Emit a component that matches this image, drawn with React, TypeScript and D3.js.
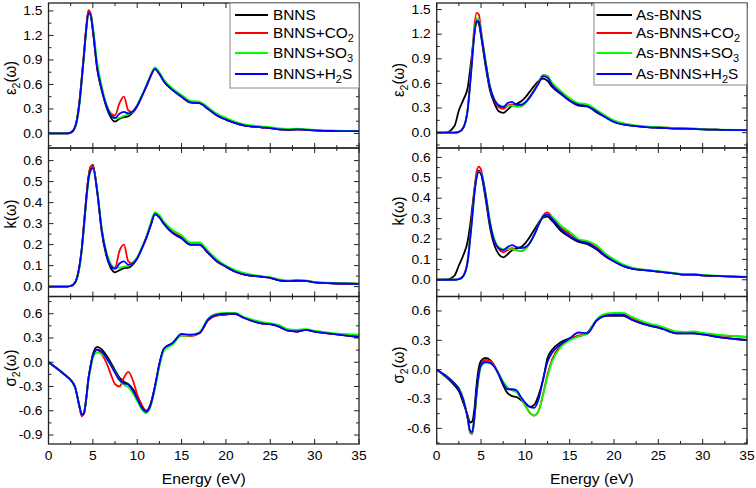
import React from 'react';
import * as d3 from 'd3';

// Photon energy grid (eV)
const ENERGY = [0,1,2,2.5,3,3.5,3.75,4,4.25,4.5,4.75,5,5.5,6,6.5,7,7.5,8,8.5,9,9.5,10,10.5,11,11.5,12,12.5,13,14,15,16,17,18,19,20,21,22,24,25,26,27,28,29,30,32,35];

// ---- Left column: BNNS systems ----
const L_EPS_BNNS = [0,0,0,0.01,0.08,0.4,0.68,0.97,1.28,1.49,1.45,1.26,0.78,0.53,0.33,0.2,0.145,0.18,0.2,0.21,0.26,0.34,0.45,0.57,0.7,0.79,0.73,0.64,0.53,0.45,0.38,0.37,0.3,0.22,0.17,0.13,0.1,0.075,0.065,0.05,0.045,0.05,0.045,0.038,0.03,0.028];
const L_EPS_CO2 = [0,0,0,0.01,0.08,0.4,0.69,0.99,1.3,1.51,1.47,1.28,0.79,0.54,0.35,0.25,0.22,0.37,0.45,0.28,0.26,0.33,0.45,0.57,0.7,0.79,0.73,0.64,0.54,0.45,0.38,0.37,0.3,0.22,0.17,0.13,0.1,0.075,0.065,0.05,0.045,0.05,0.045,0.038,0.03,0.028];
const L_EPS_SO3 = [0,0,0,0.01,0.07,0.36,0.64,0.94,1.25,1.46,1.46,1.31,0.86,0.58,0.37,0.24,0.185,0.19,0.215,0.235,0.27,0.35,0.46,0.58,0.71,0.81,0.75,0.66,0.55,0.47,0.4,0.39,0.32,0.24,0.19,0.145,0.115,0.088,0.077,0.062,0.056,0.058,0.052,0.045,0.036,0.03];
const L_EPS_H2S = [0,0,0,0.01,0.08,0.38,0.66,0.96,1.27,1.47,1.45,1.27,0.8,0.54,0.35,0.23,0.19,0.24,0.265,0.245,0.27,0.34,0.45,0.57,0.7,0.79,0.73,0.64,0.53,0.45,0.38,0.37,0.3,0.22,0.17,0.13,0.1,0.075,0.065,0.05,0.045,0.05,0.045,0.038,0.03,0.028];

const L_K_BNNS = [0,0,0,0.003,0.02,0.1,0.18,0.3,0.42,0.52,0.57,0.58,0.45,0.26,0.15,0.09,0.068,0.078,0.088,0.09,0.105,0.135,0.18,0.23,0.29,0.345,0.33,0.3,0.255,0.23,0.2,0.2,0.16,0.12,0.095,0.072,0.058,0.047,0.042,0.03,0.026,0.028,0.027,0.02,0.016,0.013];
const L_K_CO2 = [0,0,0,0.003,0.02,0.1,0.18,0.3,0.42,0.52,0.57,0.575,0.45,0.27,0.16,0.1,0.09,0.17,0.2,0.12,0.11,0.135,0.18,0.23,0.29,0.345,0.335,0.3,0.26,0.235,0.2,0.2,0.16,0.12,0.095,0.072,0.058,0.047,0.042,0.03,0.026,0.028,0.027,0.02,0.016,0.013];
const L_K_SO3 = [0,0,0,0.003,0.018,0.09,0.17,0.28,0.4,0.5,0.55,0.563,0.46,0.28,0.17,0.11,0.088,0.09,0.095,0.1,0.115,0.14,0.185,0.235,0.3,0.355,0.34,0.31,0.27,0.245,0.21,0.21,0.17,0.13,0.1,0.08,0.065,0.05,0.045,0.035,0.03,0.032,0.03,0.022,0.018,0.014];
const L_K_H2S = [0,0,0,0.003,0.02,0.1,0.18,0.29,0.41,0.51,0.555,0.565,0.45,0.27,0.16,0.1,0.085,0.11,0.12,0.105,0.11,0.135,0.18,0.23,0.29,0.345,0.33,0.3,0.255,0.23,0.2,0.2,0.16,0.12,0.095,0.072,0.058,0.047,0.042,0.03,0.026,0.028,0.027,0.02,0.016,0.013];

const L_SIG_BNNS = [0,-0.08,-0.17,-0.22,-0.31,-0.55,-0.65,-0.62,-0.45,-0.2,-0.04,0.1,0.19,0.16,0.09,0.0,-0.1,-0.19,-0.24,-0.27,-0.33,-0.42,-0.53,-0.6,-0.52,-0.3,-0.02,0.16,0.24,0.34,0.33,0.36,0.52,0.58,0.59,0.6,0.55,0.48,0.47,0.44,0.39,0.38,0.4,0.38,0.35,0.31];
const L_SIG_CO2 = [0,-0.08,-0.17,-0.22,-0.31,-0.56,-0.67,-0.64,-0.46,-0.21,-0.05,0.08,0.15,0.1,0.0,-0.14,-0.27,-0.3,-0.19,-0.12,-0.22,-0.4,-0.53,-0.6,-0.52,-0.3,-0.03,0.15,0.23,0.33,0.32,0.36,0.52,0.58,0.59,0.6,0.55,0.48,0.47,0.44,0.39,0.38,0.4,0.38,0.35,0.33];
const L_SIG_SO3 = [0,-0.08,-0.17,-0.22,-0.31,-0.55,-0.65,-0.63,-0.46,-0.23,-0.08,0.05,0.12,0.1,0.05,-0.03,-0.12,-0.22,-0.28,-0.31,-0.38,-0.48,-0.58,-0.63,-0.55,-0.33,-0.05,0.14,0.22,0.33,0.33,0.37,0.54,0.6,0.61,0.61,0.56,0.5,0.48,0.46,0.41,0.4,0.41,0.39,0.36,0.34];
const L_SIG_H2S = [0,-0.08,-0.17,-0.22,-0.31,-0.55,-0.65,-0.63,-0.45,-0.21,-0.05,0.08,0.16,0.13,0.06,-0.03,-0.13,-0.22,-0.26,-0.28,-0.35,-0.45,-0.56,-0.61,-0.53,-0.3,-0.02,0.17,0.24,0.35,0.34,0.36,0.53,0.59,0.6,0.6,0.55,0.48,0.47,0.44,0.39,0.38,0.4,0.38,0.35,0.31];

// ---- Right column: As-BNNS systems ----
const R_EPS_AS = [0,0,0.08,0.27,0.4,0.55,0.75,0.98,1.2,1.36,1.33,1.18,0.82,0.52,0.36,0.26,0.24,0.28,0.33,0.35,0.38,0.43,0.5,0.57,0.63,0.66,0.63,0.56,0.47,0.39,0.33,0.32,0.25,0.19,0.13,0.1,0.085,0.065,0.06,0.055,0.05,0.05,0.045,0.04,0.035,0.03];
const R_EPS_CO2 = [0,0,0,0.01,0.06,0.3,0.6,0.95,1.3,1.46,1.44,1.25,0.88,0.56,0.39,0.31,0.29,0.33,0.345,0.32,0.32,0.36,0.44,0.52,0.62,0.7,0.69,0.6,0.49,0.4,0.35,0.33,0.27,0.2,0.14,0.11,0.09,0.07,0.065,0.06,0.055,0.05,0.048,0.042,0.035,0.03];
const R_EPS_SO3 = [0,0,0,0.01,0.06,0.28,0.57,0.9,1.23,1.39,1.38,1.22,0.88,0.57,0.41,0.34,0.32,0.33,0.33,0.32,0.32,0.36,0.43,0.51,0.61,0.7,0.69,0.61,0.51,0.42,0.36,0.345,0.28,0.21,0.15,0.115,0.095,0.072,0.066,0.062,0.056,0.052,0.05,0.044,0.037,0.031];
const R_EPS_H2S = [0,0,0,0.01,0.06,0.28,0.56,0.88,1.2,1.36,1.36,1.2,0.86,0.56,0.4,0.33,0.31,0.36,0.375,0.34,0.34,0.37,0.43,0.51,0.6,0.69,0.67,0.58,0.48,0.39,0.34,0.32,0.26,0.19,0.13,0.1,0.085,0.065,0.06,0.055,0.05,0.05,0.045,0.04,0.035,0.03];

const R_K_AS = [0,0,0.02,0.07,0.12,0.19,0.26,0.35,0.44,0.51,0.535,0.52,0.4,0.26,0.17,0.125,0.11,0.125,0.145,0.155,0.16,0.18,0.21,0.245,0.28,0.305,0.31,0.29,0.24,0.21,0.185,0.175,0.15,0.115,0.09,0.068,0.055,0.045,0.04,0.035,0.03,0.025,0.025,0.022,0.018,0.013];
const R_K_CO2 = [0,0,0,0.003,0.02,0.1,0.2,0.32,0.44,0.53,0.555,0.54,0.42,0.28,0.19,0.15,0.135,0.145,0.155,0.145,0.14,0.15,0.18,0.22,0.27,0.315,0.33,0.31,0.26,0.225,0.195,0.185,0.16,0.125,0.095,0.072,0.058,0.045,0.04,0.035,0.03,0.025,0.025,0.022,0.018,0.014];
const R_K_SO3 = [0,0,0,0.003,0.018,0.09,0.19,0.3,0.42,0.5,0.53,0.525,0.43,0.29,0.2,0.16,0.15,0.15,0.15,0.145,0.14,0.15,0.18,0.22,0.27,0.31,0.32,0.31,0.265,0.235,0.2,0.19,0.17,0.13,0.1,0.076,0.06,0.047,0.042,0.037,0.032,0.027,0.027,0.024,0.019,0.015];
const R_K_H2S = [0,0,0,0.003,0.018,0.09,0.19,0.3,0.42,0.5,0.528,0.52,0.42,0.28,0.19,0.155,0.145,0.16,0.17,0.16,0.155,0.16,0.18,0.22,0.27,0.31,0.32,0.3,0.25,0.215,0.19,0.18,0.155,0.118,0.09,0.068,0.055,0.045,0.04,0.035,0.03,0.025,0.025,0.022,0.018,0.013];

const R_SIG_AS = [0,-0.07,-0.16,-0.22,-0.34,-0.47,-0.54,-0.53,-0.4,-0.15,0.02,0.09,0.12,0.1,0.04,-0.05,-0.16,-0.24,-0.27,-0.28,-0.31,-0.35,-0.38,-0.36,-0.26,-0.1,0.12,0.2,0.28,0.32,0.34,0.38,0.5,0.55,0.55,0.55,0.51,0.45,0.43,0.4,0.37,0.37,0.37,0.36,0.33,0.305];
const R_SIG_CO2 = [0,-0.06,-0.14,-0.19,-0.3,-0.5,-0.64,-0.66,-0.5,-0.25,-0.05,0.05,0.1,0.09,0.04,-0.04,-0.13,-0.19,-0.21,-0.23,-0.29,-0.37,-0.44,-0.47,-0.42,-0.25,-0.05,0.1,0.25,0.31,0.35,0.37,0.5,0.56,0.57,0.57,0.53,0.46,0.44,0.41,0.38,0.38,0.385,0.37,0.35,0.335];
const R_SIG_SO3 = [0,-0.06,-0.14,-0.19,-0.3,-0.5,-0.63,-0.65,-0.5,-0.26,-0.07,0.03,0.07,0.07,0.03,-0.04,-0.12,-0.18,-0.21,-0.23,-0.29,-0.37,-0.44,-0.47,-0.42,-0.26,-0.07,0.08,0.23,0.3,0.34,0.37,0.51,0.57,0.58,0.58,0.54,0.47,0.45,0.42,0.39,0.385,0.39,0.375,0.355,0.335];
const R_SIG_H2S = [0,-0.06,-0.14,-0.2,-0.31,-0.5,-0.62,-0.64,-0.48,-0.23,-0.05,0.05,0.08,0.07,0.03,-0.05,-0.14,-0.2,-0.2,-0.21,-0.28,-0.34,-0.38,-0.39,-0.3,-0.1,0.08,0.17,0.26,0.32,0.38,0.37,0.5,0.55,0.56,0.56,0.51,0.45,0.43,0.4,0.37,0.37,0.37,0.36,0.33,0.3];

// ---- Axis ticks ----
const X_MAJOR = [0, 5, 10, 15, 20, 25, 30, 35];
const X_MINOR = [2.5, 7.5, 12.5, 17.5, 22.5, 27.5, 32.5];
const EPS_MAJOR = [0, 0.3, 0.6, 0.9, 1.2, 1.5];
const EPS_MINOR = [-0.15, 0.15, 0.45, 0.75, 1.05, 1.35];
const K_MAJOR = [0, 0.1, 0.2, 0.3, 0.4, 0.5, 0.6];
const K_MINOR = [0.05, 0.15, 0.25, 0.35, 0.45, 0.55];
const K_MINOR_R = [-0.05, 0.05, 0.15, 0.25, 0.35, 0.45, 0.55];
const SIG_MAJOR_L = [-0.9, -0.6, -0.3, 0, 0.3, 0.6];
const SIG_MINOR_L = [-0.75, -0.45, -0.15, 0.15, 0.45, 0.75];
const SIG_MAJOR_R = [-0.6, -0.3, 0, 0.3, 0.6];
const SIG_MINOR_R = [-0.75, -0.45, -0.15, 0.15, 0.45];

// ---- Legends ----
const LEGEND_LEFT = [['BNNS', '', ''], ['BNNS+CO', '2', ''], ['BNNS+SO', '3', ''], ['BNNS+H', '2', 'S']];
const LEGEND_RIGHT = [['As-BNNS', '', ''], ['As-BNNS+CO', '2', ''], ['As-BNNS+SO', '3', ''], ['As-BNNS+H', '2', 'S']];
const COLORS = ['#000000', '#ff0000', '#00ff00', '#0000ff'];

const FONT = "'Liberation Sans', Arial, Helvetica, sans-serif";
const ROWS = [[3, 148], [148, 296.5], [296.5, 444]];

const fmt = (v: number) => (Math.abs(v) < 1e-9 ? '0.0' : v.toFixed(1));

function YLabel({ x, y, kind }: { x: number; y: number; kind: string }) {
  const sub = kind === 'k' ? null : '2';
  const main = kind === 'eps' ? 'ε' : kind === 'sig' ? 'σ' : 'k';
  return (
    <text transform={`translate(${x},${y}) rotate(-90) scale(1,1.1)`} textAnchor="middle" fontSize={15} fontFamily={FONT} fill="#000">
      <tspan>{main}</tspan>
      {sub && <tspan fontSize={10.5} dy={4}>{sub}</tspan>}
      <tspan dy={sub ? -4 : 0}>(ω)</tspan>
    </text>
  );
}

function Panel(props: any) {
  const { id, x0, x1, y0, y1, domain, majors, minors, series, label, labelX, labelY, showX } = props;
  const xs = d3.scaleLinear().domain([0, 35]).range([x0, x1]);
  const ys = d3.scaleLinear().domain(domain).range([y1, y0]);
  const line = d3.line<number>().x((_, i) => xs(ENERGY[i])).y(d => ys(d)).curve(d3.curveMonotoneX);
  const tk = '#222';
  return (
    <g>
      <defs>
        <clipPath id={id}><rect x={x0} y={y0} width={x1 - x0} height={y1 - y0} /></clipPath>
      </defs>
      <g clipPath={`url(#${id})`}>
        {series.map((s: number[], i: number) => (
          <path key={i} d={line(s) || ''} fill="none" stroke={COLORS[i]} strokeWidth={1.8} strokeLinejoin="round" />
        ))}
      </g>
      {X_MAJOR.map(v => (
        <g key={'xM' + v}>
          <line x1={xs(v)} x2={xs(v)} y1={y1} y2={y1 - 5} stroke={tk} />
          <line x1={xs(v)} x2={xs(v)} y1={y0} y2={y0 + 5} stroke={tk} />
        </g>
      ))}
      {X_MINOR.map(v => (
        <g key={'xm' + v}>
          <line x1={xs(v)} x2={xs(v)} y1={y1} y2={y1 - 3} stroke={tk} />
          <line x1={xs(v)} x2={xs(v)} y1={y0} y2={y0 + 3} stroke={tk} />
        </g>
      ))}
      {majors.map((v: number) => (
        <g key={'yM' + v}>
          <line x1={x0} x2={x0 + 5} y1={ys(v)} y2={ys(v)} stroke={tk} />
          <line x1={x1} x2={x1 - 5} y1={ys(v)} y2={ys(v)} stroke={tk} />
          <text transform={`translate(${x0 - 6},${ys(v) + 4.3}) scale(1.15,1)`} textAnchor="end" fontSize={12} fontFamily={FONT} fill="#000">{fmt(v)}</text>
        </g>
      ))}
      {minors.map((v: number) => (
        <g key={'ym' + v}>
          <line x1={x0} x2={x0 + 3} y1={ys(v)} y2={ys(v)} stroke={tk} />
          <line x1={x1} x2={x1 - 3} y1={ys(v)} y2={ys(v)} stroke={tk} />
        </g>
      ))}
      <rect x={x0} y={y0} width={x1 - x0} height={y1 - y0} fill="none" stroke="#222" strokeWidth={1.3} />
      <YLabel x={labelX} y={labelY} kind={label} />
      {showX && X_MAJOR.map(v => (
        <text key={'xl' + v} transform={`translate(${xs(v)},460) scale(1.15,1)`} textAnchor="middle" fontSize={12} fontFamily={FONT} fill="#000">{v}</text>
      ))}
      {showX && (
        <text transform={`translate(${(x0 + x1) / 2},484) scale(1.05,1)`} textAnchor="middle" fontSize={15} fontFamily={FONT} fill="#000">Energy (eV)</text>
      )}
    </g>
  );
}

function Legend({ x0, x1, y1, lineX0, lineX1, textX, items }: any) {
  const rows = [15, 33, 53, 74];
  return (
    <g>
      <rect x={x0} y={3} width={x1 - x0} height={y1 - 3} fill="#fff" stroke="#8a8a8a" strokeWidth={1} />
      {items.map((it: string[], i: number) => (
        <g key={i}>
          <line x1={lineX0} x2={lineX1} y1={rows[i]} y2={rows[i]} stroke={COLORS[i]} strokeWidth={1.8} />
          <text transform={`translate(${textX},${rows[i] + 5}) scale(1.1,1)`} fontSize={14} fontFamily={FONT} fill="#000">
            <tspan>{it[0]}</tspan>
            {it[1] && <tspan fontSize={10} dy={3.5}>{it[1]}</tspan>}
            {it[2] && <tspan dy={-3.5}>{it[2]}</tspan>}
          </text>
        </g>
      ))}
    </g>
  );
}

export default function App() {
  const left = { x0: 48.5, x1: 359 };
  const right = { x0: 436.7, x1: 747 };
  return (
    <svg width={756} height={488} style={{ position: 'absolute', left: 0, top: 0, background: '#fff' }}>
      <rect x={0} y={0} width={756} height={488} fill="#fff" />
      {/* Left column */}
      <Panel id="cl0" {...left} y0={ROWS[0][0]} y1={ROWS[0][1]} domain={[-0.178, 1.597]} majors={EPS_MAJOR} minors={EPS_MINOR}
        series={[L_EPS_BNNS, L_EPS_CO2, L_EPS_SO3, L_EPS_H2S]} label="eps" labelX={16} labelY={78} />
      <Panel id="cl1" {...left} y0={ROWS[1][0]} y1={ROWS[1][1]} domain={[-0.047, 0.66]} majors={K_MAJOR} minors={K_MINOR}
        series={[L_K_BNNS, L_K_CO2, L_K_SO3, L_K_H2S]} label="k" labelX={16} labelY={214} />
      <Panel id="cl2" {...left} y0={ROWS[2][0]} y1={ROWS[2][1]} domain={[-1.011, 0.813]} majors={SIG_MAJOR_L} minors={SIG_MINOR_L}
        series={[L_SIG_BNNS, L_SIG_CO2, L_SIG_SO3, L_SIG_H2S]} label="sig" labelX={16} labelY={368} showX />
      <Legend x0={230} x1={359} y1={88} lineX0={235} lineX1={268} textX={273} items={LEGEND_LEFT} />
      {/* Right column */}
      <Panel id="cr0" {...right} y0={ROWS[0][0]} y1={ROWS[0][1]} domain={[-0.187, 1.58]} majors={EPS_MAJOR} minors={EPS_MINOR}
        series={[R_EPS_AS, R_EPS_CO2, R_EPS_SO3, R_EPS_H2S]} label="eps" labelX={404} labelY={80} />
      <Panel id="cr1" {...right} y0={ROWS[1][0]} y1={ROWS[1][1]} domain={[-0.082, 0.646]} majors={K_MAJOR} minors={K_MINOR_R}
        series={[R_K_AS, R_K_CO2, R_K_SO3, R_K_H2S]} label="k" labelX={404} labelY={211} />
      <Panel id="cr2" {...right} y0={ROWS[2][0]} y1={ROWS[2][1]} domain={[-0.76, 0.748]} majors={SIG_MAJOR_R} minors={SIG_MINOR_R}
        series={[R_SIG_AS, R_SIG_CO2, R_SIG_SO3, R_SIG_H2S]} label="sig" labelX={404} labelY={365} showX />
      <Legend x0={594} x1={747} y1={85} lineX0={596.5} lineX1={632} textX={636} items={LEGEND_RIGHT} />
    </svg>
  );
}
